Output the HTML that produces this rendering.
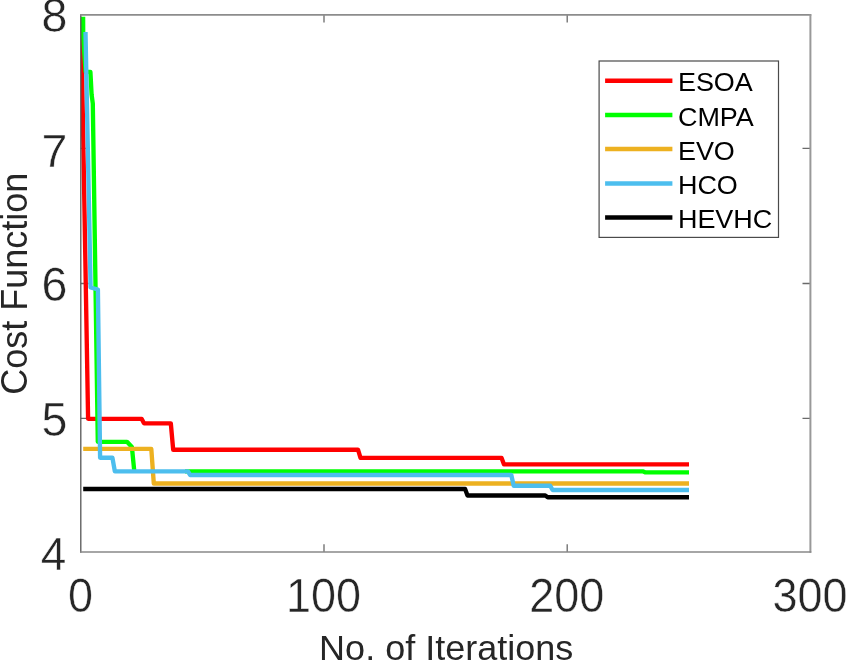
<!DOCTYPE html>
<html lang="en">
<head>
<meta charset="utf-8">
<title>Cost Function vs No. of Iterations</title>
<style>
  html, body { margin: 0; padding: 0; background: #ffffff; }
  body { width: 846px; height: 662px; overflow: hidden; }
  svg { display: block; }
  text { font-family: "Liberation Sans", sans-serif; }
  .tick { font-size: 45px; fill: #262626; stroke: #ffffff; stroke-width: 0.45px; }
  .lab { font-size: 36px; fill: #262626; }
  .leg { font-size: 26.2px; fill: #000000; }
  .curve { fill: none; stroke-width: 4.35; stroke-linejoin: round; stroke-linecap: butt; }
</style>
</head>
<body>
<svg width="846" height="662" viewBox="0 0 846 662">
  <rect x="0" y="0" width="846" height="662" fill="#ffffff"/>
  <defs>
    <clipPath id="plotclip"><rect x="80.8" y="14.9" width="729.6" height="537.1"/></clipPath>
  </defs>

  <!-- ticks -->
  <g stroke="#6a6a6a" stroke-width="1.3" fill="none">
    <path d="M324,552 V544.3 M567.2,552 V544.3 M324,14.9 V22.4 M567.2,14.9 V22.4"/>
    <path d="M80.8,148.4 H88.6 M80.8,283.5 H88.6 M80.8,418.3 H88.6"/>
    <path d="M810.4,148.4 H802.5 M810.4,283.5 H802.5 M810.4,418.3 H802.5"/>
  </g>

  <!-- data curves -->
  <g clip-path="url(#plotclip)">
    <path class="curve" stroke="#ff0000" d="M81.15,17.6 L88.1,418.8 H141.6 L144,423.3 H170.8 L173.2,449.7 H358 L360.5,457.8 H501.5 L504,464.4 H689"/>
    <path class="curve" stroke="#00ff00" d="M83.1,16.8 L83.2,37 L85.6,71.8 L90.4,71.8 L91.6,94.5 L92.8,103.5 L97.8,441.8 H127 L131.9,447 L134.25,470.9"/>
    <path class="curve" stroke="#00ff00" d="M185,471.3 H642.6 L645,472.3 H689"/>
    <path class="curve" stroke="#edb120" d="M83.2,448.9 H151.3 L153.8,483.5 H689"/>
    <path class="curve" stroke="#4dbeee" d="M85.5,32 L90.6,287.5 L97.9,289.5 L100.1,457.7 H112.4 L114.85,471.3 H187.8 L190.2,475 H511.3 L513.7,485.7 H550.2 L552.6,490 H689"/>
    <path class="curve" stroke="#000000" d="M83.2,489 H465.1 L467.5,495.5 H545.3 L547.7,497.2 H689"/>
  </g>

  <!-- axes box -->
  <g fill="none">
    <line x1="80.8" y1="14.2" x2="80.8" y2="552.8" stroke="#555555" stroke-width="1.3"/>
    <line x1="80.2" y1="14.9" x2="811.3" y2="14.9" stroke="#8c8c8c" stroke-width="1.6"/>
    <line x1="810.4" y1="14.2" x2="810.4" y2="552.8" stroke="#999999" stroke-width="2"/>
    <line x1="80.2" y1="552" x2="811.3" y2="552" stroke="#888888" stroke-width="1.6"/>
  </g>

  <!-- y tick labels -->
  <g class="tick" text-anchor="end">
    <text transform="translate(67.3,32.3) scale(1.035,1.075)">8</text>
    <text transform="translate(67.3,166.6) scale(1.035,1.03)">7</text>
    <text transform="translate(67.3,300.9) scale(1.035,1.075)">6</text>
    <text transform="translate(67.3,435.6) scale(1.035,1.055)">5</text>
    <text transform="translate(66.3,570) scale(1.02,1.043)">4</text>
  </g>
  <!-- x tick labels -->
  <g class="tick" text-anchor="middle">
    <text transform="translate(80.6,612) scale(1,1.065)">0</text>
    <text transform="translate(323.6,612) scale(1,1.065)">100</text>
    <text transform="translate(566.8,612) scale(1,1.065)">200</text>
    <text transform="translate(810,612) scale(1,1.065)">300</text>
  </g>

  <!-- axis labels -->
  <text class="lab" text-anchor="middle" style="font-size:34.8px" transform="translate(446.2,659.9) scale(1.035,1)">No. of Iterations</text>
  <text class="lab" text-anchor="middle" transform="translate(26.8,283.7) rotate(-90)">Cost Function</text>

  <!-- legend -->
  <rect x="599.1" y="61" width="179.4" height="176.4" fill="#ffffff" stroke="#4a4a4a" stroke-width="1.2"/>
  <g stroke-width="4.5" fill="none">
    <line x1="605.1" y1="80.7" x2="672.4" y2="80.7" stroke="#ff0000"/>
    <line x1="605.1" y1="114.9" x2="672.4" y2="114.9" stroke="#00ff00"/>
    <line x1="605.1" y1="149.1" x2="672.4" y2="149.1" stroke="#edb120"/>
    <line x1="605.1" y1="183.4" x2="672.4" y2="183.4" stroke="#4dbeee"/>
    <line x1="605.1" y1="217.6" x2="672.4" y2="217.6" stroke="#000000"/>
  </g>
  <g class="leg">
    <text transform="translate(677.9,91.3) scale(1.03,1)">ESOA</text>
    <text transform="translate(677.9,125.5) scale(1.03,1)">CMPA</text>
    <text transform="translate(677.9,159.8) scale(1.03,1)">EVO</text>
    <text transform="translate(677.9,194) scale(1.03,1)">HCO</text>
    <text transform="translate(677.9,228.3) scale(1.03,1)">HEVHC</text>
  </g>
</svg>
</body>
</html>
